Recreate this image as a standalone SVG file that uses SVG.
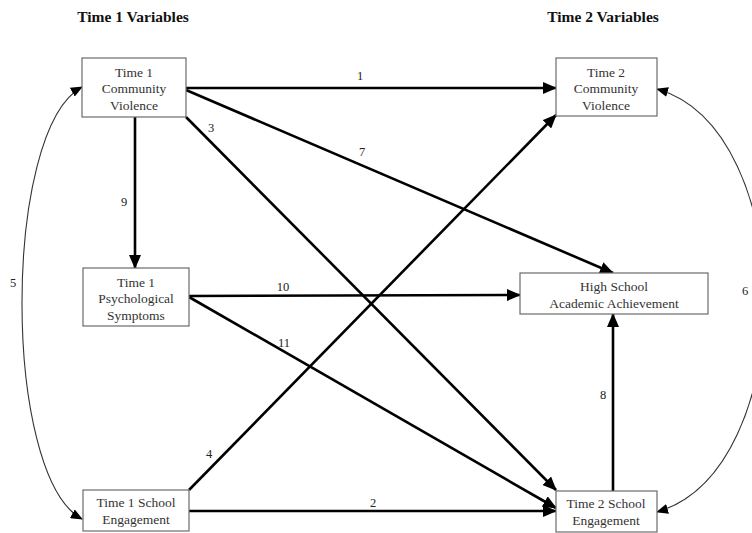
<svg xmlns="http://www.w3.org/2000/svg" width="752" height="533" viewBox="0 0 752 533">
<style>
.box{fill:#fff;stroke:#6b6b6b;stroke-width:1.2}
.t{font-family:"Liberation Serif","Times New Roman",serif;font-size:13.5px;fill:#333;text-anchor:middle}
.h{font-family:"Liberation Serif","Times New Roman",serif;font-size:15.5px;font-weight:bold;fill:#111;text-anchor:middle}
.lbl{font-family:"Liberation Serif","Times New Roman",serif;font-size:12.5px;fill:#222;text-anchor:middle}
.e{stroke:#000;stroke-width:2.6;fill:none;marker-end:url(#ah)}
.c{stroke:#333;stroke-width:1.1;fill:none;marker-start:url(#ahs);marker-end:url(#ah2)}
</style>
<defs>
<marker id="ah" markerUnits="userSpaceOnUse" markerWidth="14" markerHeight="12" viewBox="0 0 14 12" refX="13" refY="6" orient="auto"><path d="M0,0 L14,6 L0,12 z" fill="#000"/></marker>
<marker id="ah2" markerUnits="userSpaceOnUse" markerWidth="12" markerHeight="10" viewBox="0 0 12 10" refX="11" refY="5" orient="auto"><path d="M0,0 L12,5 L0,10 z" fill="#000"/></marker>
<marker id="ahs" markerUnits="userSpaceOnUse" markerWidth="12" markerHeight="10" viewBox="0 0 12 10" refX="1" refY="5" orient="auto"><path d="M12,0 L0,5 L12,10 z" fill="#000"/></marker>
</defs>
<rect width="752" height="533" fill="#fff"/>
<text class="h" x="133" y="22">Time 1 Variables</text>
<text class="h" x="603" y="22">Time 2 Variables</text>

<g id="connectors">
<path class="e" d="M186,88 L556,88"/>
<path class="e" d="M189,511 L556,511"/>
<path class="e" d="M186,117 L556,490"/>
<path class="e" d="M189,490 L556,115"/>
<path class="e" d="M186,90 L613,273"/>
<path class="e" d="M613,491 L613,314"/>
<path class="e" d="M135,117 L135,268"/>
<path class="e" d="M189,296 L520,295"/>
<path class="e" d="M189,297 L556,508"/>
<path class="c" d="M82,87 C2,130 2,476 82,519"/>
<path class="c" d="M657,89 C800,130 800,470 657,512"/>
<text class="lbl" x="360" y="80">1</text>
<text class="lbl" x="373" y="507">2</text>
<text class="lbl" x="211" y="132">3</text>
<text class="lbl" x="209" y="458">4</text>
<text class="lbl" x="13" y="287">5</text>
<text class="lbl" x="745" y="295">6</text>
<text class="lbl" x="362" y="156">7</text>
<text class="lbl" x="603" y="399">8</text>
<text class="lbl" x="124" y="206">9</text>
<text class="lbl" x="283" y="291">10</text>
<text class="lbl" x="284" y="347">11</text>
</g>

<g id="t1cv"><rect class="box" x="82" y="58" width="104" height="59"/>
<text class="t" x="134" y="77">Time 1</text><text class="t" x="134" y="93">Community</text><text class="t" x="134" y="110">Violence</text></g>
<g id="t2cv"><rect class="box" x="556" y="58" width="101" height="58"/>
<text class="t" x="606" y="77">Time 2</text><text class="t" x="606" y="93">Community</text><text class="t" x="606" y="110">Violence</text></g>
<g id="t1ps"><rect class="box" x="83" y="268" width="106" height="58"/>
<text class="t" x="136" y="287">Time 1</text><text class="t" x="136" y="303">Psychological</text><text class="t" x="136" y="320">Symptoms</text></g>
<g id="hsaa"><rect class="box" x="520" y="273" width="188" height="41"/>
<text class="t" x="614" y="291">High School</text><text class="t" x="614" y="308">Academic Achievement</text></g>
<g id="t1se"><rect class="box" x="83" y="490" width="106" height="41"/>
<text class="t" x="136" y="507">Time 1 School</text><text class="t" x="136" y="524">Engagement</text></g>
<g id="t2se"><rect class="box" x="556" y="491" width="101" height="41"/>
<text class="t" x="606" y="508">Time 2 School</text><text class="t" x="606" y="525">Engagement</text></g>
</svg>
